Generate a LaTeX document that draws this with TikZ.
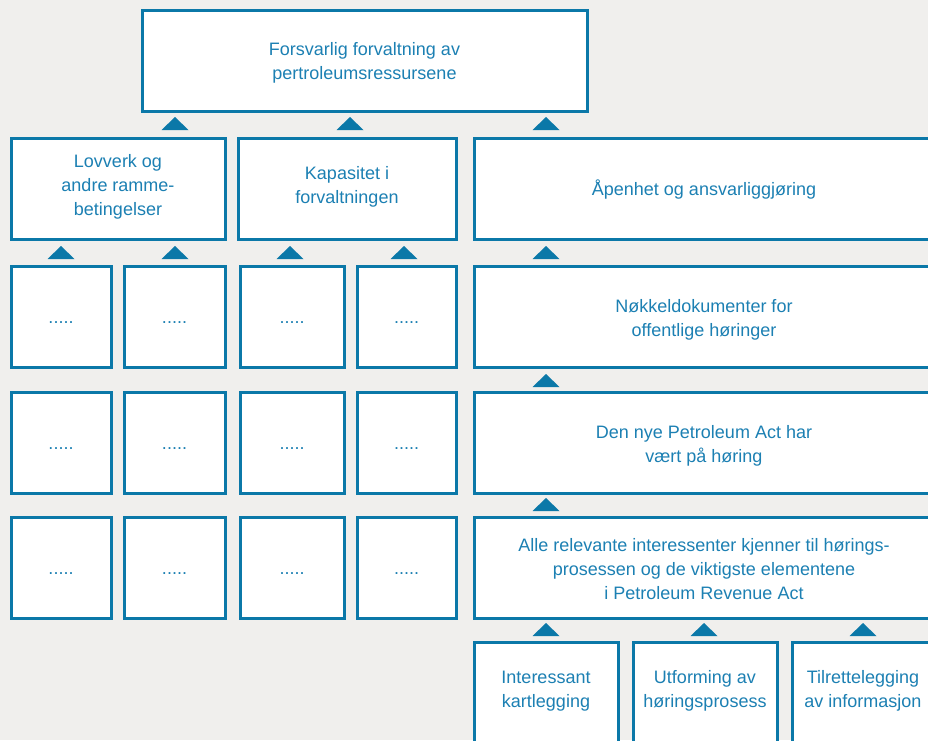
\documentclass[tikz,border=0pt]{standalone}
\usepackage{fontspec}
\setmainfont{Liberation Sans}
\usetikzlibrary{fit,calc}
\definecolor{bg}{HTML}{F0EFED}
\definecolor{bl}{HTML}{0B78A8}
\definecolor{tx}{HTML}{1C80B3}
\tikzset{
  box/.style={draw=bl, line width=2.25pt, fill=white, inner sep=0pt},
  txt/.style={text=tx, align=center, font=\fontsize{13.5pt}{18pt}\selectfont, inner sep=0pt},
  tri/.style={fill=bl}
}
\newcommand{\bx}[5]{\node[box, fit={(#2,#3) (#4,#5)}] (#1) {};}
\newcommand{\tri}[2]{\fill[tri] (#1-13.5,#2) -- (#1+13.5,#2) -- (#1,#2-13) -- cycle;}
\begin{document}
\begin{tikzpicture}[x=0.75pt,y=-0.75pt]
\useasboundingbox (0,0) rectangle (928,740);
\clip (0,0) rectangle (928,740);
\fill[bg] (0,0) rectangle (928,740);
% top
\bx{top}{142}{10}{587}{111}
\node[txt] at ($(top.center)+(0,2)$) {Forsvarlig forvaltning av\\pertroleumsressursene};
% row 1
\bx{lov}{11}{138}{225}{239}
\node[txt] at ($(lov.center)+(0,-2)$) {Lovverk og\\andre ramme-\\betingelser};
\bx{kap}{238}{138}{456}{239}
\node[txt] at ($(kap.center)+(0,-2)$) {Kapasitet i\\forvaltningen};
\bx{apen}{474}{138}{940}{239}
\node[txt] at (704,190) {Åpenhet og ansvarliggjøring};
% small boxes
\foreach \r/\ya/\yb in {a/266/367, b/392/493, c/517/618}{
  \foreach \c/\xa/\xb in {1/11/111, 2/124/225, 3/240/344, 4/357/456}{
    \bx{s\r\c}{\xa}{\ya}{\xb}{\yb}
    \node[txt] at ($(s\r\c.center)+(0,3)$) {\vphantom{Ag}.....};
  }
}
% right column
\bx{nok}{474}{266}{940}{367}
\node[txt] at (704,320) {Nøkkeldokumenter for\\offentlige høringer};
\bx{act}{474}{392}{940}{493}
\node[txt] at (704,446) {Den nye Petroleum Act har\\vært på høring};
\bx{alle}{474}{517}{940}{618}
\node[txt] at (704,569) {Alle relevante interessenter kjenner til hørings-\\prosessen og de viktigste elementene\\i Petroleum Revenue Act};
% bottom
\bx{int}{474}{642}{618}{750}
\node[txt] at (546,691) {Interessant\\kartlegging};
\bx{utf}{633}{642}{777}{750}
\node[txt] at (705,691) {Utforming av\\høringsprosess};
\bx{til}{792}{642}{940}{750}
\node[txt] at (863,691) {Tilrettelegging\\av informasjon};
% triangles
\tri{175}{130}\tri{350}{130}\tri{546}{130}
\tri{61}{259}\tri{175}{259}\tri{290}{259}\tri{404}{259}\tri{546}{259}
\tri{546}{387}
\tri{546}{511}
\tri{546}{636}\tri{704}{636}\tri{863}{636}
\end{tikzpicture}
\end{document}
